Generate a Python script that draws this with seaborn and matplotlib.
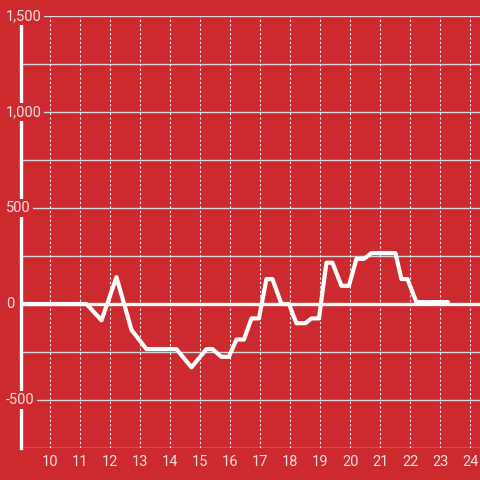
import seaborn as sns
from matplotlib import pyplot as plt
from matplotlib import transforms

BG = "#cc2a2f"
TXT = "#f3dede"

hours = [9.0, 11.2, 11.7, 12.2, 12.7, 13.2, 14.2, 14.7, 15.2, 15.4, 15.7, 15.95,
         16.2, 16.45, 16.7, 16.95, 17.2, 17.4, 17.7, 17.95, 18.2, 18.5, 18.7, 18.95,
         19.2, 19.4, 19.7, 19.95, 20.2, 20.45, 20.7, 21.5, 21.7, 21.9, 22.2, 23.25]
values = [0, 0, -85, 140, -135, -235, -235, -330, -235, -235, -275, -275,
          -185, -185, -75, -75, 130, 130, 0, 0, -100, -100, -75, -75,
          215, 215, 95, 95, 235, 235, 265, 265, 130, 130, 10, 10]

x_ticks = list(range(10, 25))
y_grid = [-750, -500, -250, 0, 250, 500, 750, 1000, 1250, 1500]
y_labels = {1500: "1,500", 1000: "1,000", 500: "500", 0: "0", -500: "-500"}


def main():
    sns.set_style("white")
    plt.rcParams["font.family"] = ["Roboto", "DejaVu Sans"]

    fig = plt.figure(figsize=(4.8, 4.8), dpi=100, facecolor=BG)
    ax = fig.add_axes([20.5 / 480, 32 / 480, 459.5 / 480, 432 / 480])
    ax.set_facecolor(BG)

    ax.set_xlim(9.0, 24.32)
    ax.set_ylim(-750, 1500)

    # grid
    for y in y_grid:
        ax.axhline(y, color="#d8d8d8", lw=1, zorder=1)
    for x in x_ticks:
        ax.axvline(x, color="#f0f0f0", lw=0.8, ls=(0, (2, 2)), zorder=1)
    ax.axhline(0, color="white", lw=2.4, zorder=3)

    sns.lineplot(x=hours, y=values, color="white", lw=3, ax=ax, zorder=4)

    for s in ["top", "right", "bottom"]:
        ax.spines[s].set_visible(False)
    ax.spines["left"].set_color("white")
    ax.spines["left"].set_linewidth(2.4)

    ax.set_xticks(x_ticks)
    ax.set_xticklabels([str(t) for t in x_ticks], color=TXT, fontsize=10.5)
    ax.tick_params(axis="x", length=0, pad=5)
    ax.set_yticks([])

    trans = transforms.blended_transform_factory(fig.transFigure, ax.transData)
    for y, lab in y_labels.items():
        ax.text(6 / 480, y, lab, transform=trans, ha="left", va="center",
                color=TXT, fontsize=10.5, zorder=6, clip_on=False,
                bbox=dict(facecolor=BG, edgecolor="none", pad=1.5))

    fig.savefig("out.png", dpi=100, facecolor=BG)


if __name__ == "__main__":
    main()
